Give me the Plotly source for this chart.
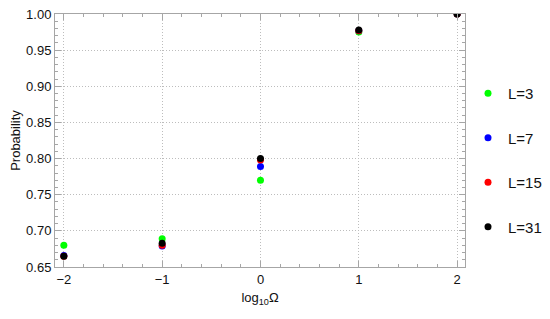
import plotly.graph_objects as go

log_omega = [-2, -1, 0, 1, 2]

prob_L3 = [0.680, 0.689, 0.770, 0.975, 1.000]
prob_L7 = [0.666, 0.679, 0.789, 0.977, 1.000]
prob_L15 = [0.665, 0.680, 0.798, 0.977, 1.000]
prob_L31 = [0.665, 0.683, 0.800, 0.978, 1.000]

series = [
    ("L=3", prob_L3, "#00ff00"),
    ("L=7", prob_L7, "#0000ff"),
    ("L=15", prob_L15, "#ff0000"),
    ("L=31", prob_L31, "#000000"),
]

x_ticks = [-2, -1, 0, 1, 2]
y_ticks = [0.65, 0.70, 0.75, 0.80, 0.85, 0.90, 0.95, 1.00]

font_family = "Liberation Sans, Arial, sans-serif"
frame_color = "#a6a6a6"
grid_color = "#bdbdbd"

# the page body adds an 8px margin, so the figure is drawn 8px smaller
W, H = 542, 311

fig = go.Figure()

for name, values, colour in series:
    fig.add_trace(
        go.Scatter(
            x=log_omega,
            y=values,
            mode="markers",
            name=name,
            legendgroup=name,
            marker=dict(color=colour, size=7),
            cliponaxis=True,
        )
    )

fig.update_layout(
    width=W,
    height=H,
    margin=dict(l=47, r=85, t=6, b=52, autoexpand=False),
    paper_bgcolor="white",
    plot_bgcolor="white",
    showlegend=True,
    font=dict(family=font_family, size=13, color="#111111"),
    legend=dict(
        x=460 / W,
        xref="container",
        y=1 - 152 / H,
        yref="container",
        yanchor="middle",
        xanchor="left",
        bgcolor="rgba(0,0,0,0)",
        borderwidth=0,
        tracegroupgap=22,
        maxheight=1.0,
        font=dict(family=font_family, size=15, color="#111111"),
        itemsizing="trace",
    ),
)

axis_common = dict(
    showline=True,
    linecolor=frame_color,
    linewidth=1,
    mirror="allticks",
    ticks="inside",
    ticklen=6,
    tickcolor=frame_color,
    showgrid=True,
    gridcolor=grid_color,
    griddash="1px,2px",
    gridwidth=1,
    zeroline=False,
    automargin=False,
    ticklabeloverflow="allow",
    tickfont=dict(family=font_family, size=13, color="#111111"),
)

fig.update_xaxes(
    **axis_common,
    range=[-2.09, 2.08],
    tickvals=x_ticks,
    ticktext=["\u22122", "\u22121", "0", "1", "2"],
    minor=dict(dtick=0.2, ticks="inside", ticklen=3, tickcolor=frame_color, showgrid=False),
    title=dict(text="log<sub>10</sub>\u03a9", font=dict(size=13), standoff=7),
)

fig.update_yaxes(
    **axis_common,
    range=[0.65, 1.0],
    tickvals=y_ticks,
    tickformat=".2f",
    minor=dict(dtick=0.01, ticks="inside", ticklen=3, tickcolor=frame_color, showgrid=False),
    title=dict(text="Probability", font=dict(size=13), standoff=15),
)

fig.write_html("out.html")
